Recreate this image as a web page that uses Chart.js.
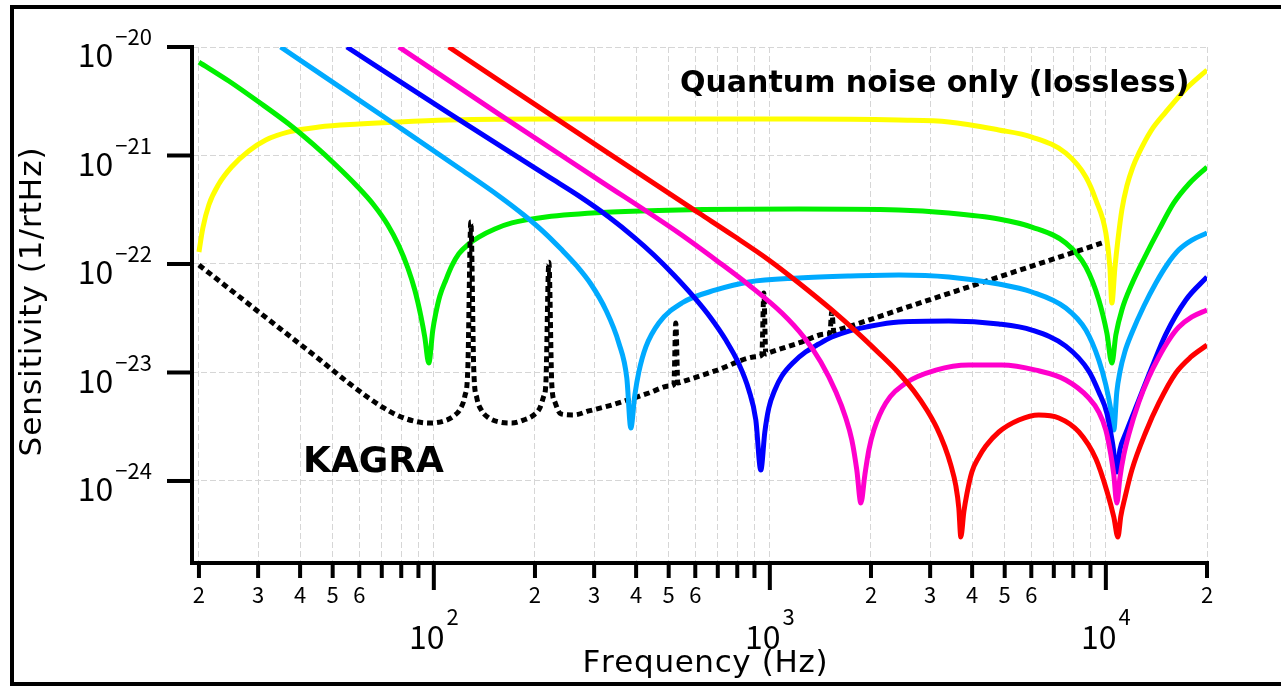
<!DOCTYPE html>
<html>
<head>
<meta charset="utf-8">
<script src="https://cdn.jsdelivr.net/npm/chart.js@4.4.1/dist/chart.umd.min.js"></script>
<style>
  html, body { margin: 0; padding: 0; background: #ffffff; }
  canvas { display: block; }
</style>
</head>
<body>
<canvas id="qn" width="1281" height="687"></canvas>
<script>
// Quantum noise of the detuned signal-recycled interferometer (lossless),
// one curve per detuning, plus the KAGRA design sensitivity.
// Frequencies in Hz, sensitivities in 1/rtHz.

const yellowFreq = [20, 20.54, 21.4, 22.92, 25, 28.14, 31.62, 37.02, 45.5, 59.8, 78.7, 110.8, 220, 615, 1220, 2420, 3410, 4800, 6025, 7600, 8720, 9340, 10000, 10280, 10420, 10640, 10860, 11160, 11550, 12030, 12540, 13610, 15090, 17190, 20000];
const yellowAmp = [1.29e-22, 2.15e-22, 3.50e-22, 5.46e-22, 7.83e-22, 1.10e-21, 1.39e-21, 1.65e-21, 1.83e-21, 1.95e-21, 2.04e-21, 2.12e-21, 2.17e-21, 2.17e-21, 2.17e-21, 2.12e-21, 2.04e-21, 1.72e-21, 1.48e-21, 1.05e-21, 6.34e-22, 3.89e-22, 1.93e-22, 9.38e-23, 4.37e-23, 9.18e-23, 1.66e-22, 3.15e-22, 5.24e-22, 7.83e-22, 1.05e-21, 1.68e-21, 2.52e-21, 4.02e-21, 6.14e-21];

const greenFreq = [20, 24.54, 30.15, 37.02, 43.95, 51.44, 59.02, 66.27, 72.96, 78.7, 83.7, 87.78, 91.5, 94.0, 96.6, 99.3, 101.4, 104.2, 108.6, 113.1, 118.7, 127.1, 136.1, 151.9, 170.7, 215.4, 338.8, 536, 1220, 2420, 3410, 4800, 6025, 7600, 8720, 9530, 10070, 10420, 10710, 11160, 11950, 13060, 14380, 15930, 17660, 20000];
const greenAmp = [7.27e-21, 4.86e-21, 3.11e-21, 1.95e-21, 1.25e-21, 8.00e-22, 5.24e-22, 3.50e-22, 2.29e-22, 1.47e-22, 9.18e-23, 5.76e-23, 3.32e-23, 2.12e-23, 1.22e-23, 2.46e-23, 3.53e-23, 5.07e-23, 7.12e-23, 9.59e-23, 1.24e-22, 1.53e-22, 1.77e-22, 2.10e-22, 2.39e-22, 2.71e-22, 3.01e-22, 3.15e-22, 3.21e-22, 3.15e-22, 2.95e-22, 2.60e-22, 2.19e-22, 1.56e-22, 9.38e-23, 4.66e-23, 2.31e-23, 1.22e-23, 2.22e-23, 3.77e-23, 6.54e-23, 1.16e-22, 2.06e-22, 3.65e-22, 5.46e-22, 7.83e-22];

const skyFreq = [35, 78.7, 118.7, 156.2, 185.3, 212.5, 240.4, 266.4, 293.3, 325, 355.3, 375.3, 385.8, 396.5, 407.5, 427.6, 467.4, 547.2, 690.8, 866, 1220, 1718, 2420, 3410, 4800, 6025, 7600, 8720, 9530, 10000, 10350, 10560, 10780, 11010, 11390, 11950, 12980, 14090, 15190, 16490, 18030, 20000];
const skyAmp = [1e-20, 1.83e-21, 7.67e-22, 4.24e-22, 2.83e-22, 1.97e-22, 1.35e-22, 9.59e-23, 6.54e-23, 3.77e-23, 1.87e-23, 8.89e-24, 3.08e-24, 6.20e-24, 1.01e-23, 1.72e-23, 2.86e-23, 4.37e-23, 5.76e-23, 6.83e-23, 7.43e-23, 7.75e-23, 7.92e-23, 7.59e-23, 6.54e-23, 5.52e-23, 3.93e-23, 2.46e-23, 1.30e-23, 7.67e-24, 4.51e-24, 2.95e-24, 6.61e-24, 1.01e-23, 1.55e-23, 2.31e-23, 4.10e-23, 6.68e-23, 9.79e-23, 1.35e-22, 1.66e-22, 1.93e-22];

const blueFreq = [55.1, 110.8, 220, 270.1, 331.8, 393.8, 451.8, 518, 594, 667.4, 739.6, 808.8, 866, 908.5, 940, 966.3, 993, 1035, 1086, 1179, 1280, 1399, 1529, 1718, 1931, 2420, 3410, 4800, 6025, 7600, 8900, 9530, 10070, 10490, 10780, 11010, 11470, 12540, 13710, 15090, 17300, 20000];
const blueAmp = [1e-20, 2.46e-21, 6.34e-22, 4.24e-22, 2.71e-22, 1.77e-22, 1.21e-22, 7.92e-23, 4.97e-23, 3.18e-23, 1.99e-23, 1.20e-23, 6.90e-24, 3.65e-24, 1.26e-24, 2.83e-24, 4.71e-24, 6.90e-24, 9.28e-24, 1.25e-23, 1.55e-23, 1.83e-23, 2.12e-23, 2.41e-23, 2.62e-23, 2.92e-23, 2.98e-23, 2.80e-23, 2.46e-23, 1.75e-23, 1.03e-23, 6.61e-24, 4.23e-24, 2.15e-24, 1.21e-24, 1.93e-24, 2.77e-24, 5.58e-24, 1.12e-23, 2.26e-23, 4.66e-23, 7.59e-23];

const magentaFreq = [78.7, 156.2, 309.8, 536, 705.1, 866, 1086, 1262, 1418, 1573, 1683, 1754, 1815, 1866, 1918, 1971, 2040, 2214, 2540, 3119, 3911, 4903, 6190, 7600, 8900, 9530, 10000, 10350, 10560, 10780, 11010, 11310, 11710, 12540, 13430, 14380, 15400, 16490, 18030, 20000];
const magentaAmp = [1e-20, 2.41e-21, 5.94e-22, 1.93e-22, 1.04e-22, 6.40e-23, 3.53e-23, 2.12e-23, 1.25e-23, 6.61e-24, 3.81e-24, 2.39e-24, 1.26e-24, 6.27e-25, 1.14e-24, 1.93e-24, 2.95e-24, 5.24e-24, 8.0e-24, 1.05e-23, 1.17e-23, 1.17e-23, 1.05e-23, 8.53e-24, 5.82e-24, 4.32e-24, 2.95e-24, 1.74e-24, 1.14e-24, 6.27e-25, 1.07e-24, 1.74e-24, 2.71e-24, 5.35e-24, 9.09e-24, 1.39e-23, 1.99e-23, 2.62e-23, 3.25e-23, 3.77e-23];

const redFreq = [110.8, 309.8, 615, 781.5, 993, 1220, 1529, 1841, 2140, 2420, 2683, 2933, 3141, 3318, 3457, 3578, 3651, 3702, 3779, 3858, 3993, 4188, 4394, 4803, 5508, 6318, 7247, 8312, 9338, 10070, 10560, 10860, 11082, 11390, 11950, 13150, 14380, 16150, 17910, 20000];
const redAmp = [1e-20, 1.20e-21, 2.95e-22, 1.81e-22, 1.09e-22, 6.68e-23, 3.77e-23, 2.26e-23, 1.45e-23, 9.9e-24, 6.75e-24, 4.51e-24, 3.08e-24, 2.06e-24, 1.40e-24, 9.0e-25, 5.64e-25, 3.05e-25, 5.18e-25, 7.59e-25, 1.21e-24, 1.66e-24, 2.10e-24, 2.83e-24, 3.65e-24, 4.06e-24, 3.81e-24, 2.83e-24, 1.60e-24, 8.09e-25, 4.66e-25, 3.05e-25, 4.76e-25, 6.97e-25, 1.26e-24, 2.83e-24, 5.24e-24, 9.9e-24, 1.39e-23, 1.79e-23];

const kagraFreq = [20, 30.15, 45.5, 55.8, 64.05, 71.0, 78.7, 87.2, 96.6, 107.1, 114.7, 120.3, 123.7, 126.2, 128.9, 131.5, 134.3, 139.0, 145.8, 156.2, 170.7, 185.3, 198.4, 206.8, 212.5, 215.4, 220, 224.5, 229.2, 238.8, 261, 289.3, 338.8, 436.4, 504.1, 518, 525.1, 532.4, 551, 690.8, 921, 946.7, 959.7, 973, 1000, 1220, 1468, 1509, 1529, 1551, 1594, 1931, 2420, 4800, 9730];
const kagraAmp = [9.79e-23, 3.61e-23, 1.33e-23, 8.0e-24, 5.82e-24, 4.71e-24, 3.97e-24, 3.57e-24, 3.42e-24, 3.57e-24, 3.97e-24, 4.71e-24, 6.07e-24, 1.05e-23, 2.44e-22, 1.05e-23, 5.82e-24, 4.42e-24, 3.81e-24, 3.50e-24, 3.42e-24, 3.65e-24, 4.06e-24, 4.71e-24, 6.07e-24, 7.67e-24, 1.04e-22, 7.67e-24, 5.35e-24, 4.15e-24, 4.06e-24, 4.42e-24, 5.02e-24, 6.47e-24, 7.51e-24, 7.75e-24, 2.86e-23, 8.0e-24, 8.26e-24, 1.04e-23, 1.40e-23, 1.45e-23, 5.40e-23, 1.48e-23, 1.53e-23, 1.87e-23, 2.26e-23, 2.31e-23, 3.61e-23, 2.39e-23, 2.46e-23, 2.98e-23, 3.77e-23, 7.59e-23, 1.56e-22];

// Axis ticks and their labels
const xMinorTicks = [20, 30, 40, 50, 60, 70, 80, 90, 200, 300, 400, 500, 600, 700, 800, 900, 2000, 3000, 4000, 5000, 6000, 7000, 8000, 9000, 20000];
const xMinorLabels = ['2', '3', '4', '5', '6', '', '', '', '2', '3', '4', '5', '6', '', '', '', '2', '3', '4', '5', '6', '', '', '', '2'];
const xMajorTicks = [100, 1000, 10000];
const xMajorExps = ['2', '3', '4'];
const yTicks = [1e-20, 1e-21, 1e-22, 1e-23, 1e-24];
const yExps = ['\u221220', '\u221221', '\u221222', '\u221223', '\u221224'];

const xTitle = 'Frequency (Hz)';
const yTitle = 'Sensitivity (1/rtHz)';
const noteTop = 'Quantum noise only (lossless)';
const noteKagra = 'KAGRA';

const LABEL_FONT = '"Noto Sans CJK JP", "Liberation Sans", sans-serif';
const TITLE_FONT = '"DejaVu Sans", sans-serif';
const NOTE_FONT = '"DejaVu Sans", sans-serif';

function pts(fs, vs) { return fs.map((f, i) => ({ x: f, y: vs[i] })); }

function curve(label, fs, vs, color, dash) {
  return {
    label, data: pts(fs, vs),
    borderColor: color, backgroundColor: color,
    borderWidth: 5, pointRadius: 0, fill: false,
    cubicInterpolationMode: 'monotone',
    borderDash: dash || [],
    borderCapStyle: 'butt', borderJoinStyle: 'round'
  };
}

// Draw text spread so that it spans a given width, centred on (cx, cy)
function spreadText(ctx, text, cx, cy, width) {
  const chars = [...text];
  const natural = chars.reduce((s, ch) => s + ctx.measureText(ch).width, 0);
  const gap = chars.length > 1 ? (width - natural) / (chars.length - 1) : 0;
  let x = cx - width / 2;
  ctx.textAlign = 'left';
  for (const ch of chars) {
    ctx.fillText(ch, x, cy);
    x += ctx.measureText(ch).width + gap;
  }
}

const frameAndAxes = {
  id: 'frameAndAxes',
  afterDraw(chart) {
    const ctx = chart.ctx;
    const a = chart.chartArea;
    const xs = chart.scales.x, ys = chart.scales.y;
    ctx.save();
    ctx.fillStyle = '#000';

    // outer frame
    ctx.fillRect(10, 5, 1271, 4);
    ctx.fillRect(10, 5, 4, 681);
    ctx.fillRect(10, 682, 1271, 4);

    // axis lines
    ctx.fillRect(a.left - 2, a.top - 2, 4, a.bottom - a.top + 4);
    ctx.fillRect(a.left - 2, a.bottom - 2, a.right - a.left + 4, 4);

    // y ticks and 10^n labels
    yTicks.forEach((v, i) => {
      const py = ys.getPixelForValue(v);
      ctx.fillRect(167, py - 2, a.left - 167, 4);
      ctx.textBaseline = 'middle';
      ctx.font = '22px ' + LABEL_FONT;
      const wExp = ctx.measureText(yExps[i]).width;
      ctx.textAlign = 'right';
      ctx.fillText(yExps[i], 152, py - 10);
      ctx.font = '32px ' + LABEL_FONT;
      ctx.fillText('10', 152 - wExp - 2, py + 8);
    });

    // x minor ticks and digit labels
    ctx.font = '22px ' + LABEL_FONT;
    ctx.textAlign = 'center';
    ctx.textBaseline = 'middle';
    xMinorTicks.forEach((v, i) => {
      const px = xs.getPixelForValue(v);
      ctx.fillRect(px - 2, a.bottom, 4, 15);
      if (xMinorLabels[i]) ctx.fillText(xMinorLabels[i], px, 595);
    });

    // x major ticks and 10^n labels
    xMajorTicks.forEach((v, i) => {
      const px = xs.getPixelForValue(v);
      ctx.fillRect(px - 2, a.bottom, 4, 27);
      ctx.font = '32px ' + LABEL_FONT;
      const w10 = ctx.measureText('10').width;
      ctx.font = '22px ' + LABEL_FONT;
      const wExp = ctx.measureText(xMajorExps[i]).width;
      const left = px - (w10 + 2 + wExp) / 2;
      ctx.textAlign = 'left';
      ctx.textBaseline = 'middle';
      ctx.font = '32px ' + LABEL_FONT;
      ctx.fillText('10', left, 637);
      ctx.font = '22px ' + LABEL_FONT;
      ctx.fillText(xMajorExps[i], left + w10 + 2, 617);
    });

    // axis titles
    ctx.font = '31px ' + TITLE_FONT;
    ctx.textBaseline = 'middle';
    spreadText(ctx, xTitle, 705, 664, 245);
    ctx.save();
    ctx.translate(33, 302);
    ctx.rotate(-Math.PI / 2);
    spreadText(ctx, yTitle, 0, 0, 309);
    ctx.restore();

    // annotations
    ctx.textAlign = 'left';
    ctx.textBaseline = 'alphabetic';
    ctx.font = 'bold 30px ' + NOTE_FONT;
    ctx.fillText(noteTop, 680, 92);
    ctx.font = 'bold 36px ' + NOTE_FONT;
    ctx.fillText(noteKagra, 303, 472);

    ctx.restore();
  }
};

new Chart(document.getElementById('qn'), {
  type: 'line',
  data: {
    datasets: [
      curve('red', redFreq, redAmp, '#ff0000'),
      curve('magenta', magentaFreq, magentaAmp, '#ff00cc'),
      curve('blue', blueFreq, blueAmp, '#0000ff'),
      curve('sky', skyFreq, skyAmp, '#00aaff'),
      curve('KAGRA', kagraFreq, kagraAmp, '#000000', [6, 4]),
      curve('green', greenFreq, greenAmp, '#00f000'),
      curve('yellow', yellowFreq, yellowAmp, '#ffff00')
    ]
  },
  options: {
    responsive: false,
    animation: false,
    events: [],
    layout: { padding: { left: 192, right: 74, top: 47, bottom: 124 } },
    plugins: { legend: { display: false }, tooltip: { enabled: false } },
    scales: {
      x: {
        type: 'logarithmic',
        min: 19.07, max: 20000,
        ticks: { display: false },
        grid: { color: '#d6d6d6', lineWidth: 1, drawTicks: false },
        border: { display: false, dash: [6, 3] },
        afterBuildTicks: (axis) => {
          axis.ticks = xMinorTicks.concat(xMajorTicks).sort((p, q) => p - q).map(v => ({ value: v }));
        }
      },
      y: {
        type: 'logarithmic',
        min: 1.754e-25, max: 1e-20,
        ticks: { display: false },
        grid: { color: '#d6d6d6', lineWidth: 1, drawTicks: false },
        border: { display: false, dash: [6, 3] },
        afterBuildTicks: (axis) => {
          axis.ticks = yTicks.map(v => ({ value: v }));
        }
      }
    }
  },
  plugins: [frameAndAxes]
});
</script>
</body>
</html>
